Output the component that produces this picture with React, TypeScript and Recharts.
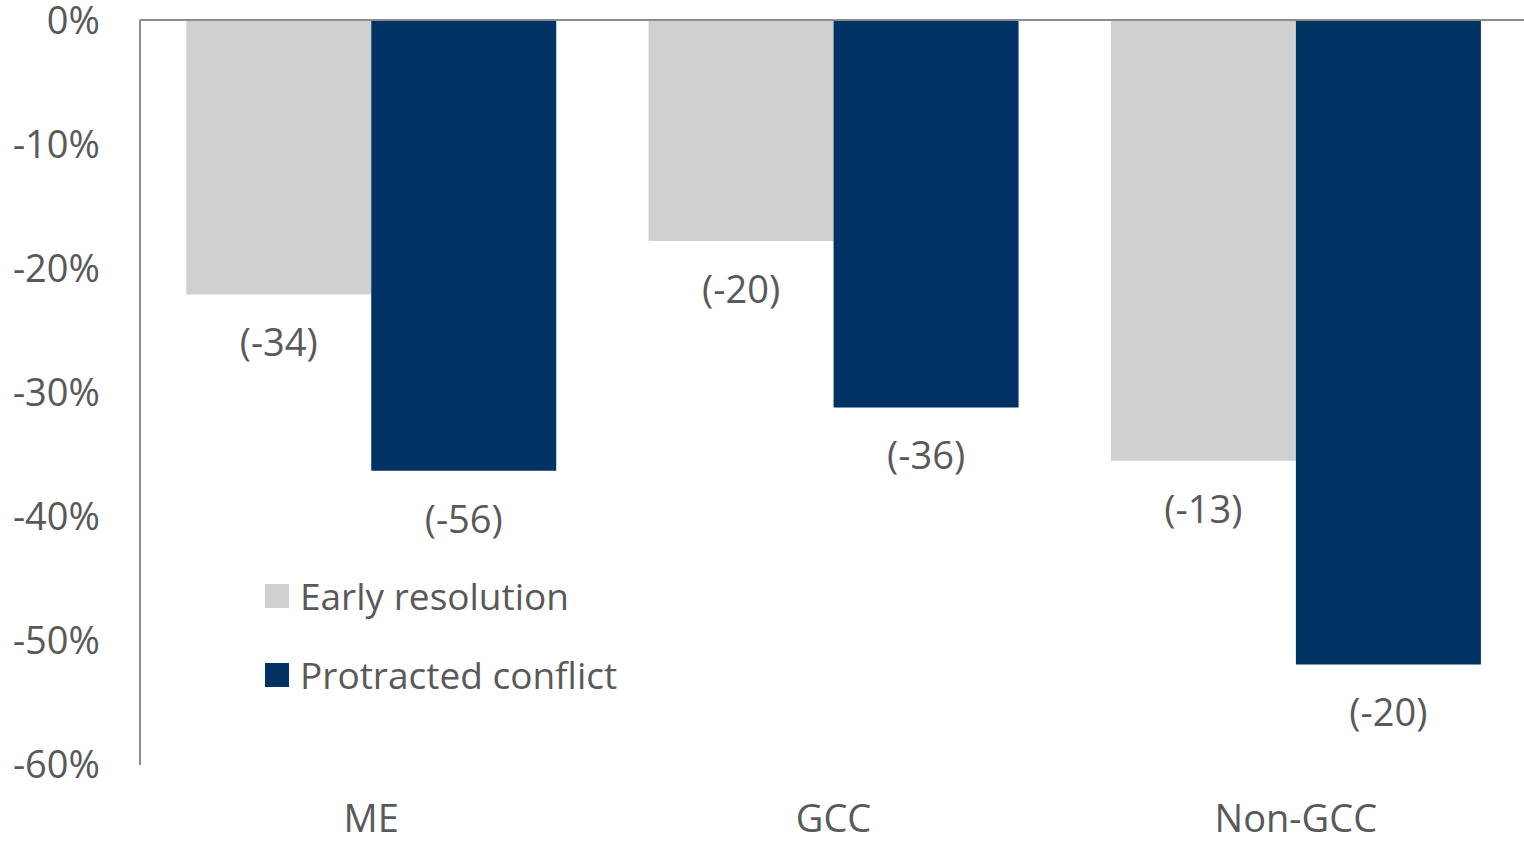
import { BarChart, Bar, XAxis, YAxis, ReferenceLine, LabelList } from 'recharts';

const regions = ['ME', 'GCC', 'Non-GCC'];
const earlyResolution = [-22.1, -17.8, -35.5];
const protractedConflict = [-36.3, -31.2, -51.9];
const earlyLabels = ['(-34)', '(-20)', '(-13)'];
const protractedLabels = ['(-56)', '(-36)', '(-20)'];
const yTicks = [0, -10, -20, -30, -40, -50, -60];

const GREY = '#d0d0d0';
const NAVY = '#003264';
const TEXT = '#595959';
const FONT = '"Open Sans", "Noto Sans", sans-serif';

const chartData = regions.map((region, i) => ({
    region,
    early: earlyResolution[i],
    protracted: protractedConflict[i],
    earlyLabel: earlyLabels[i],
    protractedLabel: protractedLabels[i],
}));

const series = [
    { name: 'Early resolution', color: GREY },
    { name: 'Protracted conflict', color: NAVY },
];

// value label sits under the end of the (negative) bar
const BelowLabel = (props: any) => {
    const { x, y, width, height, value } = props;
    const bottom = Math.max(y, y + height);
    return (
        <text x={x + width / 2} y={bottom + 47} textAnchor="middle" dominantBaseline="central"
            fill={TEXT} fontSize={38} fontFamily={FONT}>
            {value}
        </text>
    );
};

const LegendBox = () => (
    <div style={{ position: 'absolute', left: 265, top: 556, fontFamily: FONT, fontSize: 37, color: TEXT }}>
        {series.map((item, i) => (
            <div key={i} style={{ display: 'flex', alignItems: 'center', height: 79 }}>
                <span style={{ width: 24, height: 24, background: item.color, marginRight: 11 }} />
                <span>{item.name}</span>
            </div>
        ))}
    </div>
);

export default function App() {
    return (
        <div style={{ position: 'relative', width: 1524, height: 843, background: '#fff', overflow: 'hidden' }}>
            <style>{'body{margin:0}'}</style>
            <BarChart width={1524} height={843} data={chartData}
                margin={{ top: 20, right: -3, bottom: 0, left: 0 }}
                barCategoryGap="10%" barGap={0}>
                <XAxis dataKey="region" axisLine={false} tickLine={false} tickSize={0} tickMargin={40} height={78}
                    tick={{ fill: TEXT, fontSize: 38, fontFamily: FONT }} />
                <YAxis domain={[-60, 0]} ticks={yTicks} width={140} interval={0}
                    tickFormatter={(v: number) => `${v}%`}
                    axisLine={{ stroke: '#8c8c8c', strokeWidth: 2 }} tickLine={false} tickSize={0} tickMargin={40}
                    tick={{ fill: TEXT, fontSize: 38, fontFamily: FONT }} />
                <ReferenceLine y={0} stroke="#8c8c8c" strokeWidth={2} />
                <Bar dataKey="early" fill={GREY} isAnimationActive={false}>
                    <LabelList dataKey="earlyLabel" content={<BelowLabel />} />
                </Bar>
                <Bar dataKey="protracted" fill={NAVY} isAnimationActive={false}>
                    <LabelList dataKey="protractedLabel" content={<BelowLabel />} />
                </Bar>
            </BarChart>
            <LegendBox />
        </div>
    );
}
